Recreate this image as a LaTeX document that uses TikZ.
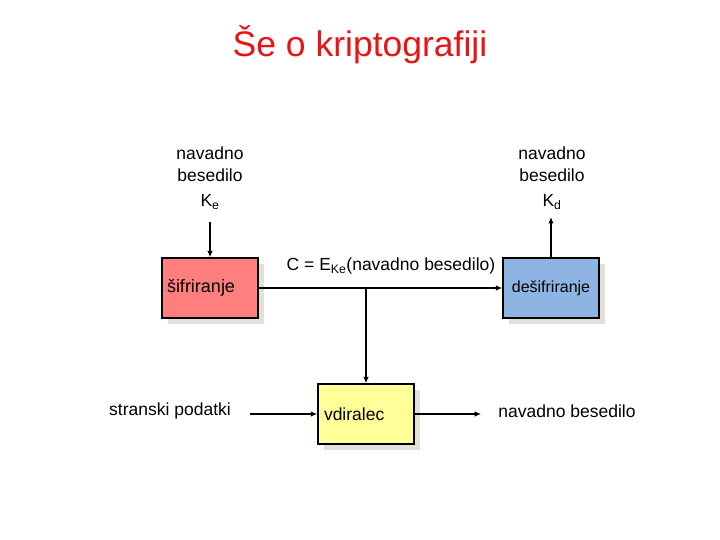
\documentclass[tikz,border=0pt]{standalone}
\usepackage{fontspec}
\setmainfont{Liberation Sans}
\usetikzlibrary{shadows,arrows.meta}
\definecolor{titlered}{RGB}{230,20,20}
\definecolor{encfill}{RGB}{255,127,127}
\definecolor{decfill}{RGB}{142,180,227}
\definecolor{intfill}{RGB}{255,255,153}
\definecolor{shadowgray}{RGB}{226,224,216}
\begin{document}
\begin{tikzpicture}[x=1pt,y=-1pt,
  txt/.style={font=\fontsize{17.5}{22}\selectfont, align=center, inner sep=1pt},
  box/.style={draw=black, line width=1.3pt, minimum width=96pt, minimum height=60pt,
    drop shadow={shadow xshift=6pt, shadow yshift=-6pt, fill=shadowgray, opacity=1}},
  conn/.style={line width=1.3pt, -{Latex[length=6.5pt,width=5.5pt]}}
]
\useasboundingbox (0,0) rectangle (720,540);
\node[font=\fontsize{35.5}{40}\selectfont, text=titlered] (title) at (360,45) {Še o kriptografiji};

\node[txt] (ptL) at (210,164) {navadno\\besedilo};
\node[txt] (keL) at (210,202) {K\textsubscript{e}};
\node[txt] (ptR) at (552,164) {navadno\\besedilo};
\node[txt] (kdR) at (552,202) {K\textsubscript{d}};

\node[box, fill=encfill, text width=86pt, align=left, inner xsep=5pt,
  font=\fontsize{18}{22}\selectfont] (sif) at (210,288) {šifriranje};
\node[box, fill=decfill, align=center, font=\fontsize{16}{20}\selectfont] (desif) at (551,288) {dešifriranje};
\node[box, fill=intfill, text width=84pt, align=left, inner xsep=6pt,
  font=\fontsize{17.5}{22}\selectfont] (vdir) at (366,414) {vdiralec};

\node[txt] (clab) at (391,266) {C = E\textsubscript{Ke}(navadno besedilo)};
\node[txt] (strans) at (170,411) {stranski podatki};
\node[txt] (outp) at (567,411) {navadno besedilo};

\coordinate (j) at (366,288);
\coordinate (ksrc) at (210,222);
\coordinate (kdst) at (551,217);

\draw[conn] (ksrc) -- (sif.north);
\draw[conn] (desif.north) -- (kdst);
\draw[conn] (sif.east) -- (desif.west);
\draw[conn] (j) -- (vdir.north);
\draw[conn, shorten <=18pt] (strans.east |- vdir.west) -- (vdir.west);
\draw[conn, shorten >=16pt] (vdir.east) -- (outp.west |- vdir.east);
\end{tikzpicture}
\end{document}
